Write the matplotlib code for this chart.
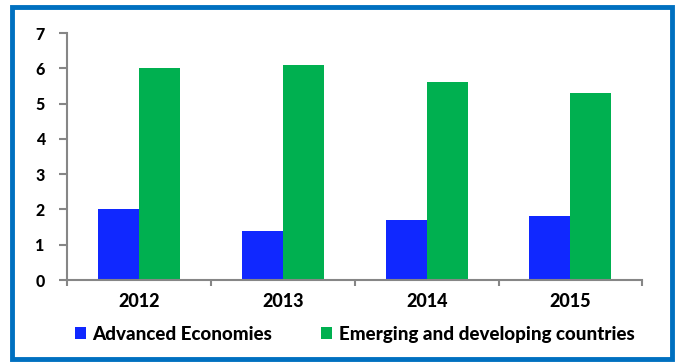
import numpy as np
import matplotlib.pyplot as plt
from matplotlib.patches import Rectangle

years = ["2012", "2013", "2014", "2015"]
advanced = [2.0, 1.4, 1.7, 1.8]
emerging = [6.0, 6.1, 5.6, 5.3]

blue = "#1028FF"
green = "#00B050"
frame_blue = "#0070C0"
axis_grey = "#868686"

plt.rcParams['font.family'] = ['Lato', 'DejaVu Sans']

fig = plt.figure(figsize=(6.75, 3.62), dpi=100)
ax = fig.add_axes([0.0993, 0.2265, 0.8524, 0.6823])

x = np.arange(len(years))
w = 0.285
ax.bar(x - w / 2, advanced, w, color=blue, label="Advanced Economies")
ax.bar(x + w / 2, emerging, w, color=green, label="Emerging and developing countries")

ax.set_xlim(-0.5, len(years) - 0.5)
ax.set_ylim(0, 7)
ax.set_yticks(range(0, 8))
ax.set_yticklabels([str(v) for v in range(0, 8)], fontsize=11.5, fontweight='black')

# category labels sit between the boundary ticks
ax.set_xticks(np.arange(-0.5, len(years)), minor=False)
ax.set_xticklabels([])
ax.set_xticks(x, minor=True)
ax.set_xticklabels(years, minor=True, fontsize=13, fontweight='black')
ax.tick_params(axis='x', which='minor', length=0, pad=9)
ax.tick_params(axis='x', which='major', length=4, width=1.5, color=axis_grey)
ax.tick_params(axis='y', length=6, width=1.5, color=axis_grey, pad=10)

for side in ["top", "right"]:
    ax.spines[side].set_visible(False)
for side in ["left", "bottom"]:
    ax.spines[side].set_color(axis_grey)
    ax.spines[side].set_linewidth(1.5)

ax.legend(loc='upper center', bbox_to_anchor=(0.5, -0.155), ncol=2, frameon=False,
          prop={'size': 13.5, 'weight': 'black'}, handlelength=0.6, handleheight=0.6,
          handletextpad=0.35, columnspacing=2.6, borderaxespad=0)

# blue frame round the whole chart
fig.patches.append(Rectangle((12 / 675, 3.5 / 362), 660 / 675, 351.5 / 362,
                             transform=fig.transFigure, fill=False,
                             edgecolor=frame_blue, linewidth=3.5))

fig.savefig("out.png", dpi=100)
